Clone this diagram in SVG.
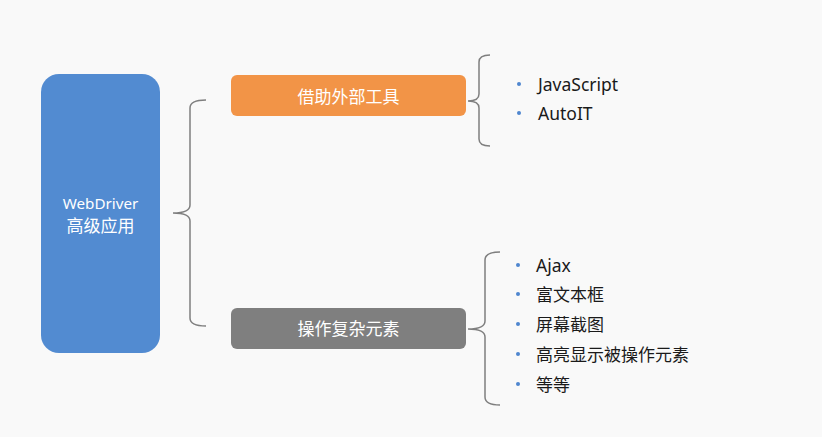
<svg xmlns="http://www.w3.org/2000/svg" width="822" height="437" viewBox="0 0 822 437">
<style>
.bg{fill:#f9f9f9}
.brace{fill:none;stroke:#7f7f7f;stroke-width:1.5}
.lbl{font-family:"Noto Sans","Noto Sans CJK SC",sans-serif;font-size:17px;fill:#ffffff;text-anchor:middle;dominant-baseline:central}
.item{font-family:"Noto Sans","Noto Sans CJK SC",sans-serif;font-size:17px;fill:#1a1a1a;dominant-baseline:central}
.lat{font-size:17.5px}
.dot{fill:#4f86cf}
</style>
<rect class="bg" x="0" y="0" width="822" height="437"/>
<g id="root">
<rect x="41" y="74" width="119" height="279" rx="18" fill="#528bd1"/>
<text class="lbl" x="100.5" y="203" style="font-size:15.2px">WebDriver</text>
<text class="lbl" x="100.5" y="225">高级应用</text>
</g>
<g id="connectors">
<path class="brace" d="M206,100 Q190,100 190,108 L190,205 Q190,213 173,213 Q190,213 190,221 L190,318 Q190,326 206,326"/>
<path class="brace" d="M490,55 Q479,55 479,62 L479,94 Q479,101 468,101 Q479,101 479,108 L479,139 Q479,146 490,146"/>
<path class="brace" d="M500,252 Q485,252 485,260 L485,321 Q485,329 468,329 Q485,329 485,337 L485,397 Q485,405 500,405"/>
</g>
<g id="tools">
<rect x="231" y="75" width="235" height="41" rx="6" fill="#f29447"/>
<text class="lbl" x="348.5" y="96">借助外部工具</text>
</g>
<g id="complex">
<rect x="231" y="308" width="235" height="41" rx="6" fill="#7f7f7f"/>
<text class="lbl" x="348.5" y="328.5">操作复杂元素</text>
</g>
<g id="tools-items">
<circle class="dot" cx="519" cy="84" r="2"/>
<text class="item lat" x="538" y="84">JavaScript</text>
<circle class="dot" cx="519" cy="113" r="2"/>
<text class="item lat" x="538" y="113">AutoIT</text>
</g>
<g id="complex-items">
<circle class="dot" cx="518" cy="265" r="2"/>
<text class="item lat" x="536" y="265">Ajax</text>
<circle class="dot" cx="518" cy="294" r="2"/>
<text class="item" x="536" y="294">富文本框</text>
<circle class="dot" cx="518" cy="324" r="2"/>
<text class="item" x="536" y="324">屏幕截图</text>
<circle class="dot" cx="518" cy="354" r="2"/>
<text class="item" x="536" y="354">高亮显示被操作元素</text>
<circle class="dot" cx="518" cy="384" r="2"/>
<text class="item" x="536" y="384">等等</text>
</g>
</svg>
